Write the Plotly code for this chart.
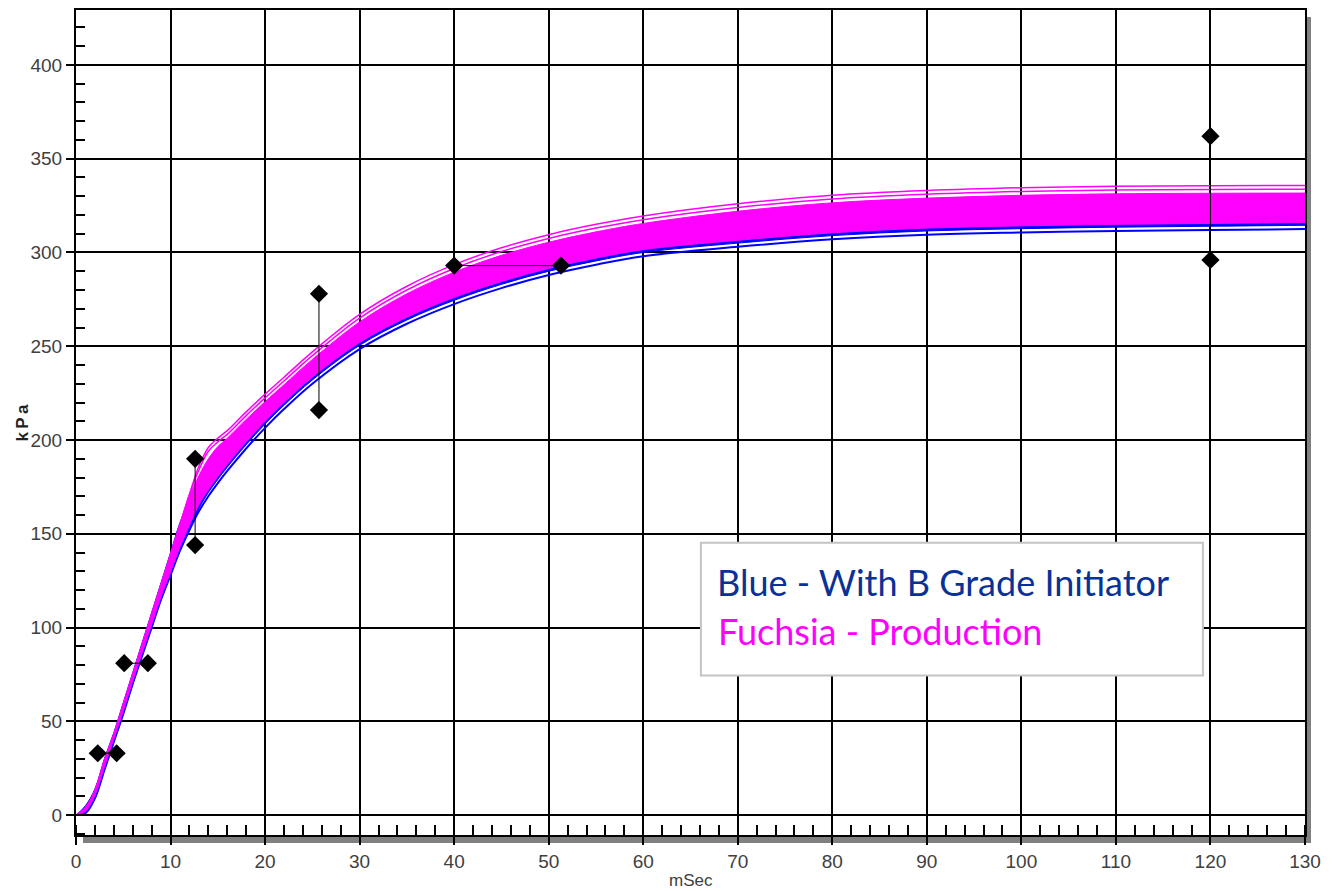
import plotly.graph_objects as go

# ---- data ----
x_pts = [0, 1, 2, 3, 4, 5, 6, 7, 8, 9, 10, 11, 12, 13, 14, 15, 16, 18, 20, 22, 25, 30, 35, 40, 45, 50, 55, 60, 70, 80, 90, 100, 110, 120, 130]

# lowest blue trace
blue_line = [0, 1, 9, 24, 39, 54, 70, 85, 100, 115, 128, 141, 152, 162, 170, 177,
             183.5, 195.5, 206.5, 216.5, 230, 248.5, 262, 272.5, 281, 288, 293.5, 298, 303, 307, 309.5, 310.7, 311.5, 312, 312.5]
# blue bundle (mostly hidden under the fuchsia bundle)
blue_lo = [0, 1, 9, 24, 39, 54, 70, 85, 100, 115, 128, 141, 152, 163.5, 172, 179,
           185.5, 197.5, 208.5, 218.5, 232, 250.5, 264, 274.5, 283, 290, 295.5, 300, 305, 309, 311.5, 312.7, 313.5, 314, 314.5]
blue_hi = [0, 5, 14, 30, 44, 60, 76, 92, 108, 124, 140, 156, 168, 178, 187, 194,
           199, 209, 218.5, 227.5, 241, 261, 276, 287.5, 296.5, 303.5, 309, 313.5, 320, 324.5, 327, 328.5, 329.3, 329.6, 329.7]
# fuchsia bundle
mag_lo = [0, 2, 10.5, 25.5, 40.5, 55.5, 71.5, 86.5, 101.5, 116.5, 129.5, 143, 154.5, 165.5, 173.5, 180.5,
          187, 199, 210, 220, 233.5, 252, 265.5, 276, 284.5, 291.5, 297, 301.5, 306.5, 310.5, 313, 314.2, 315, 315.5, 316]
mag_hi = [0, 4, 13, 29, 43, 59, 75, 91, 107, 123, 139, 155, 170, 181, 190, 196.5,
          201, 211, 220.5, 229.5, 243, 263, 278, 289.5, 298.5, 305.5, 311, 315.5, 322, 326.5, 329, 330.5, 331.3, 331.6, 331.7]
# two separate upper fuchsia traces
mag_t1 = [0, 4, 13, 29, 43, 59, 75, 91, 107, 123, 139, 155, 171, 184, 194, 199,
          203, 213, 222.5, 231.5, 245, 265, 280, 291.5, 300.5, 307.5, 313, 317.5, 324, 328.5, 331, 332.5, 333.3, 333.6, 333.7]
mag_t2 = [0, 4, 13, 29, 43, 59, 75, 91, 107, 123, 139, 155, 171, 186, 196, 201,
          205, 215, 224.5, 233.5, 247, 267, 282, 293.5, 302.5, 309.5, 315, 319.5, 326, 330.5, 333, 334.5, 335.3, 335.6, 335.7]

# limit markers (pairs joined by a thin line)
limit_x = [[2.3, 4.3], [5.1, 7.6], [12.6, 12.6], [25.7, 25.7], [40.0, 51.3], [120.0, 120.0]]
limit_y = [[33, 33], [81, 81], [190, 144], [278, 216], [293, 293], [362, 296]]

x_ticks = list(range(0, 131, 10))
y_ticks = list(range(0, 401, 50))

legend_lines = ["Blue - With B Grade Initiator", "Fuchsia - Production"]

BLUE = "#0000ff"
MAG = "#ff00ff"

fig = go.Figure()

def line(y, color, width, fill=None):
    return go.Scatter(x=x_pts, y=y, mode="lines", line=dict(color=color, width=width, shape="spline"),
                      fill=fill, fillcolor=color if fill else None, showlegend=False, hoverinfo="skip")

fig.add_trace(line(blue_line, BLUE, 2))
fig.add_trace(line(blue_lo, BLUE, 1))
fig.add_trace(line(blue_hi, BLUE, 1, fill="tonexty"))
fig.add_trace(line(mag_lo, MAG, 1))
fig.add_trace(line(mag_hi, MAG, 1, fill="tonexty"))
fig.add_trace(line(mag_t1, MAG, 1.5))
fig.add_trace(line(mag_t2, MAG, 1.5))

for lx, ly in zip(limit_x, limit_y):
    fig.add_trace(go.Scatter(x=lx, y=ly, mode="lines+markers",
                             line=dict(color="black", width=1),
                             marker=dict(symbol="diamond", size=14, color="black"),
                             showlegend=False, hoverinfo="skip"))

PW, PH = 1229.0, 827.0
shapes = [
    dict(type="rect", xref="paper", yref="paper", x0=1, x1=1 + 6 / PW, y0=-8 / PH, y1=1 - 7 / PH,
         fillcolor="#808080", line=dict(width=0), layer="below"),
    dict(type="rect", xref="paper", yref="paper", x0=7 / PW, x1=1 + 6 / PW, y0=-8 / PH, y1=0,
         fillcolor="#808080", line=dict(width=0), layer="below"),
    dict(type="rect", xref="x", yref="y", x0=66.1, x1=119.2, y0=74.5, y1=145.2,
         fillcolor="white", line=dict(color="#c4c4c4", width=2), layer="above"),
]

annotations = [
    dict(text=legend_lines[0], x=67.6, y=124.5, xref="x", yref="y", xanchor="left", yanchor="middle",
         showarrow=False, font=dict(family="Lato", size=36, color="#0a3296")),
    dict(text=legend_lines[1], x=67.7, y=98.0, xref="x", yref="y", xanchor="left", yanchor="middle",
         showarrow=False, font=dict(family="Lato", size=36, color=MAG)),
    dict(text="<b>k\u2009P\u2009a</b>", x=-54 / PW, y=0.5, xref="paper", yref="paper", textangle=-90,
         xanchor="center", yanchor="middle", showarrow=False,
         font=dict(family="Liberation Sans", size=17, color="#222222")),
    dict(text="mSec", x=0.5, y=-46 / PH, xref="paper", yref="paper",
         xanchor="center", yanchor="middle", showarrow=False,
         font=dict(family="Liberation Sans", size=17, color="#404040")),
]

axis_common = dict(ticks="outside", ticklen=8, tickwidth=2, tickcolor="black",
                   showgrid=True, gridcolor="black", gridwidth=2, zeroline=False,
                   showline=True, linecolor="black", linewidth=2, mirror=True,
                   tickfont=dict(family="Liberation Sans", size=19, color="#404040"))

fig.update_layout(
    width=1332, height=891,
    margin=dict(l=76, r=27, t=8, b=56),
    paper_bgcolor="white", plot_bgcolor="white",
    shapes=shapes, annotations=annotations,
    xaxis=dict(range=[0, 130], tickvals=x_ticks,
               minor=dict(dtick=2, tick0=0, ticks="inside", ticklen=10, tickwidth=2, tickcolor="black", showgrid=False),
               **axis_common),
    yaxis=dict(range=[-10.6, 429.3], tickvals=y_ticks,
               minor=dict(dtick=10, tick0=0, ticks="inside", ticklen=9, tickwidth=2, tickcolor="black", showgrid=False),
               **axis_common),
)

fig.write_html("out.html")
